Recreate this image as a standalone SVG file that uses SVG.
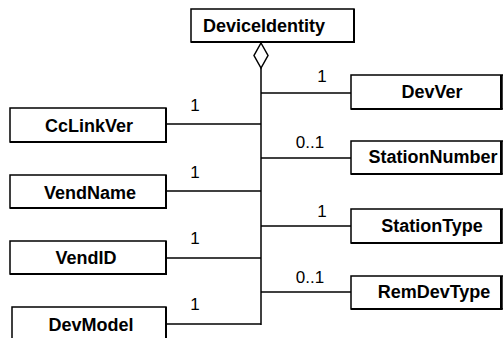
<svg xmlns="http://www.w3.org/2000/svg" width="503" height="338" viewBox="0 0 503 338">
<style>
.box{fill:#fff;stroke:#000;stroke-width:1.5}
.sh{fill:none;stroke:#000;stroke-width:2}
.lbl{font-family:"Liberation Sans",Arial,sans-serif;font-weight:bold;font-size:18px;fill:#000;text-anchor:middle}
.mul{font-family:"Liberation Sans",Arial,sans-serif;font-size:17px;fill:#000;text-anchor:middle}
.ln{stroke:#000;stroke-width:1.5;fill:none}
</style>
<rect width="503" height="338" fill="#fff"/>
<g id="connectors">
<line class="ln" x1="261" y1="68" x2="261" y2="325"/>
<polygon points="261,43 268,55.5 261,68 254,55.5" fill="#fff" stroke="#000" stroke-width="1.5"/>
<line class="ln" x1="261" y1="93" x2="351" y2="93"/>
<line class="ln" x1="261" y1="158" x2="351" y2="158"/>
<line class="ln" x1="261" y1="226" x2="351" y2="226"/>
<line class="ln" x1="261" y1="292" x2="351" y2="292"/>
<line class="ln" x1="166" y1="124" x2="261" y2="124"/>
<line class="ln" x1="166" y1="191" x2="261" y2="191"/>
<line class="ln" x1="166" y1="258" x2="261" y2="258"/>
<line class="ln" x1="166" y1="324" x2="261" y2="324"/>
<text class="mul" x="322" y="82">1</text>
<text class="mul" x="310" y="148">0..1</text>
<text class="mul" x="322" y="217">1</text>
<text class="mul" x="310" y="283">0..1</text>
<text class="mul" x="195" y="111">1</text>
<text class="mul" x="195" y="178">1</text>
<text class="mul" x="195" y="244">1</text>
<text class="mul" x="195" y="310">1</text>
</g>
<g id="DeviceIdentity">
<rect class="box" x="191" y="9" width="163" height="33"/>
<path class="sh" d="M354,9 V42 H191"/>
<text class="lbl" x="264" y="32">DeviceIdentity</text>
</g>
<g id="DevVer">
<rect class="box" x="351" y="75" width="152" height="34"/>
<path class="sh" d="M501,75 V109 H351"/>
<text class="lbl" x="432" y="98">DevVer</text>
</g>
<g id="StationNumber">
<rect class="box" x="351" y="141" width="152" height="33"/>
<path class="sh" d="M501,141 V174 H351"/>
<text class="lbl" x="433" y="163">StationNumber</text>
</g>
<g id="StationType">
<rect class="box" x="351" y="209" width="152" height="34"/>
<path class="sh" d="M501,209 V243 H351"/>
<text class="lbl" x="432" y="232">StationType</text>
</g>
<g id="RemDevType">
<rect class="box" x="351" y="276" width="152" height="33"/>
<path class="sh" d="M501,276 V309 H351"/>
<text class="lbl" x="434" y="298">RemDevType</text>
</g>
<g id="CcLinkVer">
<rect class="box" x="10" y="108" width="156" height="34"/>
<path class="sh" d="M166,108 V142 H10"/>
<text class="lbl" x="89" y="132">CcLinkVer</text>
</g>
<g id="VendName">
<rect class="box" x="10" y="175" width="156" height="33"/>
<path class="sh" d="M166,175 V208 H10"/>
<text class="lbl" x="90" y="199">VendName</text>
</g>
<g id="VendID">
<rect class="box" x="10" y="241" width="156" height="33"/>
<path class="sh" d="M166,241 V274 H10"/>
<text class="lbl" x="86" y="264">VendID</text>
</g>
<g id="DevModel">
<rect class="box" x="12" y="307" width="154" height="40"/>
<path class="sh" d="M166,307 V347"/>
<text class="lbl" x="91" y="331">DevModel</text>
</g>
</svg>
